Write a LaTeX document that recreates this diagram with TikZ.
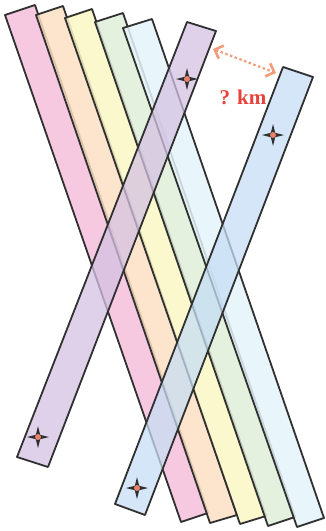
\documentclass[tikz,border=0pt]{standalone}
\usepackage{fontspec}
\newfontfamily\labelfont{Liberation Serif}
\usetikzlibrary{arrows.meta}
\definecolor{cpink}{HTML}{F4C0DC}
\definecolor{corange}{HTML}{FDDFC4}
\definecolor{cyellow}{HTML}{FAF7C4}
\definecolor{cgreen}{HTML}{DFEFD9}
\definecolor{clblue}{HTML}{E4F4FA}
\definecolor{cpurple}{HTML}{D4C2E2}
\definecolor{cblue}{HTML}{C6DEF4}
\definecolor{cline}{HTML}{303030}
\definecolor{csalmon}{HTML}{F29C7C}
\definecolor{cred}{HTML}{E8423A}
\definecolor{cstar}{HTML}{E8806A}
\tikzset{
  strip/.style={draw=cline, line width=1.8pt, fill opacity=0.85, line join=round},
  crossstrip/.style={draw=cline, line width=1.8pt, fill opacity=0.75, line join=round},
  fourstar/.pic={
    \fill[cline] (0,-11) -- (2.2,-2.2) -- (11,0) -- (2.2,2.2) -- (0,11) -- (-2.2,2.2) -- (-11,0) -- (-2.2,-2.2) -- cycle;
    \fill[cstar] (0,0) circle (3);
  }
}
\begin{document}
\begin{tikzpicture}[x=1pt,y=-1pt]
\useasboundingbox (0,0) rectangle (326,531);
% parallel strips
\path[strip, fill=cpink]   (5,15)  -- (35,5)  -- (208,513) -- (181,522) -- cycle;
\path[strip, fill=corange] (36,15) -- (63,6)  -- (237,515) -- (210,523) -- cycle;
\path[strip, fill=cyellow] (65,18) -- (92,9)  -- (266,516) -- (240,524) -- cycle;
\path[strip, fill=cgreen]  (95,22) -- (123,13) -- (295,517) -- (268,526) -- cycle;
\path[strip, fill=clblue]  (123,28) -- (152,19) -- (324,518) -- (297,527) -- cycle;
% crossing strips
\path[crossstrip, fill=cpurple] (187,22) -- (216,31) -- (48,467) -- (17,457) -- cycle;
\path[crossstrip, fill=cblue]   (283,67) -- (313,77) -- (145,515) -- (115,504) -- cycle;
% stars
\pic at (187,79) {fourstar};
\pic at (38,437) {fourstar};
\pic at (273,135) {fourstar};
\pic at (137,488) {fourstar};
% distance arrow
\coordinate (pa) at (213,49);
\coordinate (pb) at (276,73);
\draw[csalmon, line width=2.2pt, dash pattern=on 2.5pt off 2.5pt,
  arrows={Straight Barb[length=7pt,width=14pt,line width=2.6pt]-Straight Barb[length=7pt,width=14pt,line width=2.6pt]}]
  (pa) -- (pb);
\node[text=cred, font=\labelfont\fontsize{21}{21}\selectfont\bfseries, inner sep=0pt] (lbl) at (243,97) {? km};
\end{tikzpicture}
\end{document}
